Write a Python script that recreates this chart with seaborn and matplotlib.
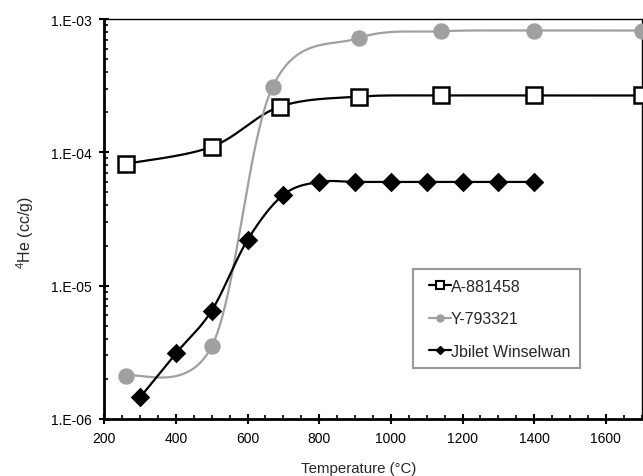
import numpy as np
import pandas as pd
import matplotlib
matplotlib.use("Agg")
import matplotlib.pyplot as plt
from matplotlib.lines import Line2D
from matplotlib.legend_handler import HandlerLine2D
from matplotlib.ticker import FixedLocator, MultipleLocator, NullFormatter
import seaborn as sns

# ---- data ----
a_temp = [260, 500, 690, 910, 1140, 1400, 1700]
a_he = [8.2e-5, 1.1e-4, 2.2e-4, 2.62e-4, 2.67e-4, 2.67e-4, 2.67e-4]

y_temp = [260, 500, 670, 910, 1140, 1400, 1700]
y_he = [2.1e-6, 3.5e-6, 3.1e-4, 7.2e-4, 8.1e-4, 8.2e-4, 8.2e-4]

j_temp = [300, 400, 500, 600, 700, 800, 900, 1000, 1100, 1200, 1300, 1400]
j_he = [1.45e-6, 3.1e-6, 6.5e-6, 2.2e-5, 4.8e-5, 6.0e-5, 6.0e-5, 6.0e-5, 6.0e-5, 6.0e-5, 6.0e-5, 6.0e-5]

names = ["A-881458", "Y-793321", "Jbilet Winselwan"]
yticks = [1e-6, 1e-5, 1e-4, 1e-3]
ytick_labels = ["1.E-06", "1.E-05", "1.E-04", "1.E-03"]
xticks = [200, 400, 600, 800, 1000, 1200, 1400, 1600]

XMIN, XMAX = 200, 1700
YMIN, YMAX = 1e-6, 1e-3

sns.set_theme(style="white")
plt.rcParams["font.family"] = ["Liberation Sans", "DejaVu Sans"]
plt.rcParams["mathtext.fontset"] = "custom"
plt.rcParams["mathtext.rm"] = "Liberation Sans"
plt.rcParams["mathtext.it"] = "Liberation Sans"


def smooth(xs, ys, n=40):
    """Excel-style smoothed line (Catmull-Rom Bezier) in display-like space."""
    xs = np.asarray(xs, float)
    ys = np.log10(np.asarray(ys, float))
    u = (xs - XMIN) / (XMAX - XMIN) * 538.0
    v = (ys - np.log10(YMIN)) / 3.0 * 400.0
    P = np.column_stack([u, v])
    P = np.vstack([P[0], P, P[-1]])
    out = []
    for i in range(1, len(P) - 2):
        p0, p1, p2, p3 = P[i - 1], P[i], P[i + 1], P[i + 2]
        c1 = p1 + (p2 - p0) / 6.0
        c2 = p2 - (p3 - p1) / 6.0
        t = np.linspace(0, 1, n)[:, None]
        seg = ((1 - t) ** 3) * p1 + 3 * ((1 - t) ** 2) * t * c1 + 3 * (1 - t) * t ** 2 * c2 + t ** 3 * p2
        out.append(seg if i == 1 else seg[1:])
    S = np.vstack(out)
    sx = S[:, 0] / 538.0 * (XMAX - XMIN) + XMIN
    sy = 10 ** (S[:, 1] / 400.0 * 3.0 + np.log10(YMIN))
    return sx, sy


fig = plt.figure(figsize=(6.43, 4.77), dpi=100)
ax = fig.add_axes([0.162, 0.1195, 0.836, 0.8385])

grey = "#a0a0a0"
series = [
    (a_temp, a_he, "black", "s", 11, "white"),
    (y_temp, y_he, grey, "o", 10, grey),
    (j_temp, j_he, "black", "D", 8, "black"),
]

for (xs, ys, col, mk, ms, fc), nm in zip(series, names):
    sx, sy = smooth(xs, ys)
    df = pd.DataFrame({"T": sx, "He": sy})
    sns.lineplot(data=df, x="T", y="He", ax=ax, color=col, lw=1.6,
                 sort=False, estimator=None, legend=False)

for (xs, ys, col, mk, ms, fc), nm in zip(series, names):
    ax.plot(xs, ys, ls="none", marker=mk, ms=ms, mfc=fc, mec=col, mew=1.8,
            clip_on=False, zorder=5)

ax.set_yscale("log")
ax.set_xlim(XMIN, XMAX)
ax.set_ylim(YMIN, YMAX)
ax.yaxis.set_major_locator(FixedLocator(yticks))
ax.set_yticklabels(ytick_labels)
ax.yaxis.set_minor_formatter(NullFormatter())
ax.set_xticks(xticks)
ax.xaxis.set_minor_locator(MultipleLocator(50))

ax.tick_params(axis="both", which="major", direction="inout", length=7, width=1.5,
               labelsize=10, colors="black", pad=5.5)
ax.tick_params(axis="both", which="minor", direction="in", length=3, width=1.2,
               colors="black")
ax.tick_params(axis="x", which="both", bottom=True, top=False)
ax.tick_params(axis="y", which="both", left=True, right=False)

for side in ["left", "bottom"]:
    ax.spines[side].set_linewidth(2)
    ax.spines[side].set_color("black")
for side in ["top", "right"]:
    ax.spines[side].set_linewidth(1)
    ax.spines[side].set_color("black")

ax.set_xlabel("Temperature (°C)", fontsize=10.8)
ax.set_ylabel("$^{4}$He (cc/g)", fontsize=11.5)
ax.xaxis.set_label_coords(0.474, -0.104)
ax.yaxis.set_label_coords(-0.126, 0.4675)

handles = [
    Line2D([], [], color="black", lw=1.6, marker="s", ms=6, mfc="white", mec="black", mew=1.5),
    Line2D([], [], color=grey, lw=1.6, marker="o", ms=5, mfc=grey, mec=grey),
    Line2D([], [], color="black", lw=1.6, marker="D", ms=4, mfc="black", mec="black"),
]
leg = ax.legend(handles, names, loc="upper left", bbox_to_anchor=(0.574, 0.375),
                frameon=True, fancybox=False, edgecolor="#808080", fontsize=11.5,
                handlelength=1.8, handletextpad=0.0, labelspacing=1.1,
                borderpad=0.6, borderaxespad=0,
                handler_map={Line2D: HandlerLine2D(xpad=0.41)})
leg.get_frame().set_linewidth(1.5)
leg.set_zorder(10)

fig.savefig("out.png", dpi=100, facecolor="white")
